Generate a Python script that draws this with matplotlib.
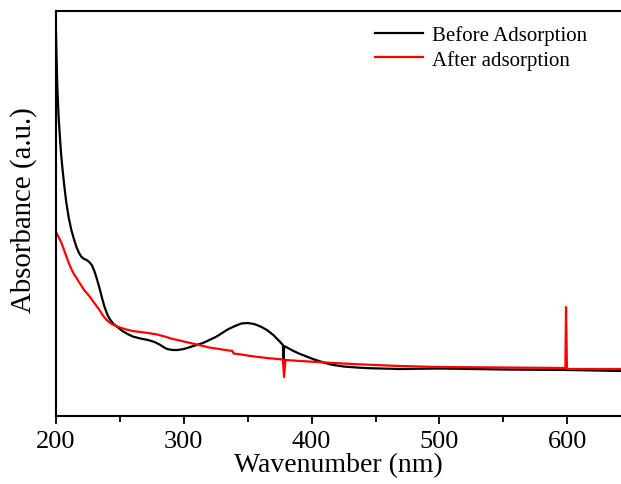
import matplotlib
matplotlib.use("Agg")
import matplotlib.pyplot as plt
from matplotlib.ticker import MultipleLocator

plt.rcParams['font.family'] = ['Liberation Serif', 'DejaVu Serif']

before_x = [200, 200.5, 201, 202, 203, 204, 205, 206.5, 208, 210, 212, 214, 216, 218, 220, 222, 224,
            226, 228, 230, 232, 234, 236, 238, 240, 242, 245, 248, 252, 256, 260, 266, 272, 277, 281,
            284, 287, 291, 295, 300, 305, 310, 315, 320, 325, 330, 335, 340, 345, 350, 355, 360, 365,
            370, 375, 377.5, 378, 378.5, 380, 385, 390, 396, 402, 407, 412, 417, 425, 435, 445, 469,
            500, 550, 600, 642]
before_y = [3.84, 3.55, 3.30, 3.00, 2.80, 2.62, 2.48, 2.30, 2.14, 1.98, 1.86, 1.77, 1.69, 1.63, 1.59,
            1.57, 1.56, 1.54, 1.51, 1.45, 1.37, 1.28, 1.18, 1.09, 1.02, 0.97, 0.92, 0.89, 0.85, 0.82,
            0.795, 0.775, 0.76, 0.74, 0.715, 0.69, 0.67, 0.66, 0.66, 0.67, 0.69, 0.71, 0.73, 0.76,
            0.79, 0.83, 0.87, 0.90, 0.925, 0.93, 0.92, 0.895, 0.86, 0.81, 0.745, 0.71, 0.55, 0.70,
            0.69, 0.655, 0.625, 0.595, 0.565, 0.545, 0.525, 0.51, 0.495, 0.485, 0.478, 0.47, 0.475,
            0.465, 0.46, 0.45]

after_x = [200, 202, 204, 206, 208, 210, 212, 214, 216, 219, 222, 226, 230, 234, 237, 240, 243, 246,
           250, 255, 260, 266, 272, 279, 285, 290, 295, 300, 305, 310, 315, 320, 325, 330, 338, 339,
           345, 352, 365, 377.5, 378.4, 379.5, 391, 417, 440, 469, 500, 550, 597, 598.5, 599, 599.7,
           620, 642]
after_y = [1.84, 1.79, 1.74, 1.67, 1.60, 1.53, 1.47, 1.42, 1.38, 1.32, 1.26, 1.20, 1.13, 1.06, 1.00,
           0.955, 0.925, 0.905, 0.885, 0.865, 0.85, 0.84, 0.83, 0.815, 0.795, 0.775, 0.76, 0.745,
           0.73, 0.715, 0.70, 0.685, 0.675, 0.665, 0.65, 0.625, 0.615, 0.60, 0.58, 0.565, 0.39,
           0.56, 0.55, 0.53, 0.515, 0.50, 0.49, 0.485, 0.48, 0.48, 1.09, 0.47, 0.47, 0.47]

labels = ["Before Adsorption", "After adsorption"]

fig = plt.figure(figsize=(6.21, 4.85), dpi=100)
ax = fig.add_axes([56/621, 1-417/485, (621-56)/621, (417-12)/485])

ax.plot(before_x, before_y, color='black', lw=1.6, label=labels[0])
ax.plot(after_x, after_y, color='red', lw=1.6, label=labels[1])

ax.set_xlim(200, 642)
ax.set_ylim(0, 4.05)
ax.xaxis.set_major_locator(MultipleLocator(100))
ax.xaxis.set_minor_locator(MultipleLocator(50))
ax.tick_params(axis='x', which='major', direction='out', length=6, width=1.3, labelsize=19, pad=4)
ax.tick_params(axis='x', which='minor', direction='out', length=4, width=1.3)
ax.set_yticks([])
for s in ['left', 'bottom', 'top']:
    ax.spines[s].set_linewidth(1.5)
ax.spines['right'].set_visible(False)

ax.set_xlabel("Wavenumber (nm)", fontsize=20, labelpad=0)
ax.set_ylabel("Absorbance (a.u.)", fontsize=20.8)
ax.yaxis.set_label_coords(-0.034, 0.51)

ax.legend(loc='upper right', bbox_to_anchor=(0.965, 1.0), frameon=False, fontsize=15,
          handlelength=2.3, handletextpad=0.4, labelspacing=0.2, borderaxespad=0.3)

fig.savefig("out.png", dpi=100)
